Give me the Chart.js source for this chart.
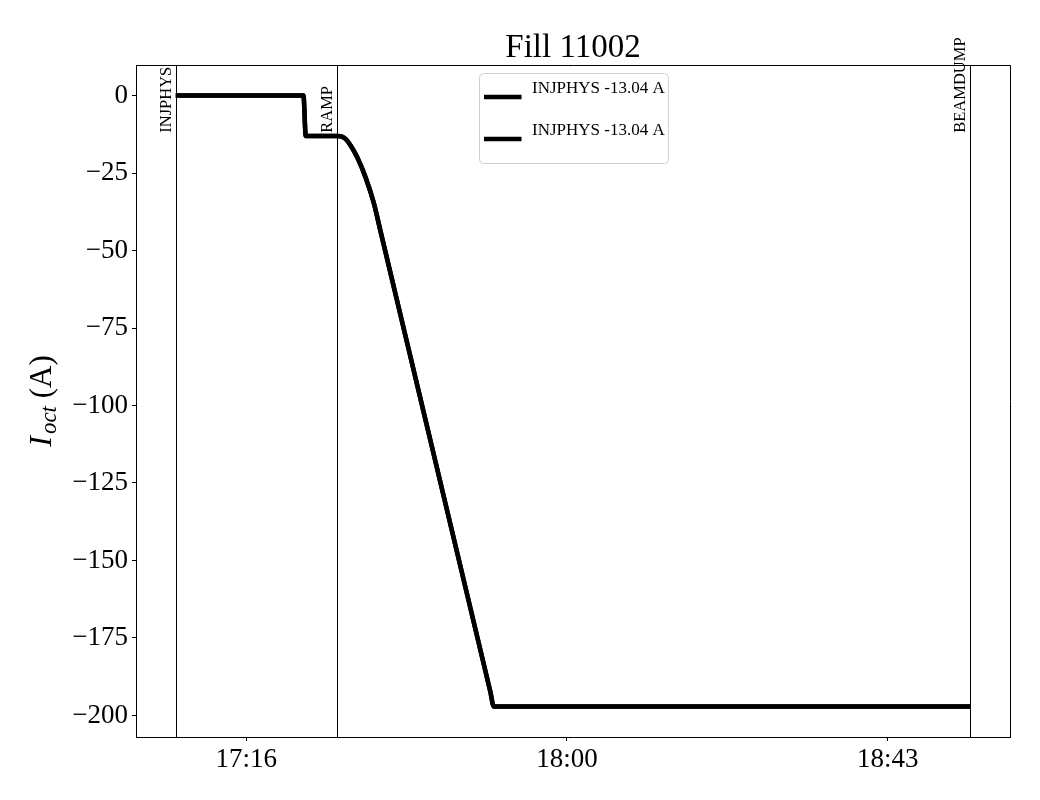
<!DOCTYPE html>
<html>
<head>
<meta charset="utf-8">
<script src="https://cdn.jsdelivr.net/npm/chart.js@4/dist/chart.umd.min.js"></script>
<style>
  html, body { margin: 0; padding: 0; background: #fff; }
  canvas { display: block; }
</style>
</head>
<body>
<canvas id="mychart" width="1040" height="800"></canvas>
<script>
// time in minutes after midnight, current in A
const timeMin = [1026.95, 1030, 1035, 1040, 1044.27, 1044.58, 1046.5, 1048.76, 1049.31, 1049.98,
  1050.66, 1051.56, 1052.69, 1053.82, 1054.73, 1060, 1069.6, 1070.08, 1085, 1100, 1115, 1134.68];
const current = [0, 0, 0, 0, 0, -13.04, -13.04, -13.04, -13.1, -14.0,
  -16.1, -19.9, -26.4, -34.8, -43.9, -96.5, -192.3, -197.1, -197.1, -197.1, -197.1, -197.1];
const seriesLabels = ["INJPHYS -13.04 A", "INJPHYS -13.04 A"];

const eventNames = ["INJPHYS", "RAMP", "BEAMDUMP"];
const eventTimes = [1026.95, 1048.76, 1134.68];

const xTickValues = [1036.5, 1080, 1123.5];
const xTickLabels = ["17:16", "18:00", "18:43"];
const yTickValues = [0, -25, -50, -75, -100, -125, -150, -175, -200];

const serif = "'Liberation Serif', 'Times New Roman', serif";
Chart.defaults.font.family = serif;
Chart.defaults.color = "#000";

// matplotlib-like 5% margins
const xr = timeMin[timeMin.length - 1] - timeMin[0];
const yr = Math.max(...current) - Math.min(...current);

const extras = {
  id: "extras",
  beforeDatasetsDraw(chart) {
    const ctx = chart.ctx, a = chart.chartArea;
    const xs = chart.scales.x, ys = chart.scales.y;
    ctx.save();
    ctx.strokeStyle = "#000";
    ctx.lineWidth = 1;
    eventTimes.forEach((t, i) => {
      const px = Math.round(xs.getPixelForValue(t)) + 0.5;
      ctx.beginPath();
      ctx.moveTo(px, a.top);
      ctx.lineTo(px, a.bottom);
      ctx.stroke();
      ctx.save();
      ctx.translate(px - 2, ys.getPixelForValue(-12));
      ctx.rotate(-Math.PI / 2);
      ctx.font = "16.5px " + serif;
      ctx.fillStyle = "#000";
      ctx.textAlign = "left";
      ctx.textBaseline = "bottom";
      ctx.fillText(eventNames[i], 0, 0);
      ctx.restore();
    });
    ctx.restore();
  },
  afterDraw(chart) {
    const ctx = chart.ctx, a = chart.chartArea;
    ctx.save();
    // top and right spines
    ctx.strokeStyle = "#000";
    ctx.lineWidth = 1;
    ctx.beginPath();
    ctx.moveTo(Math.round(a.left) + 0.5, Math.round(a.top) + 0.5);
    ctx.lineTo(Math.round(a.right) + 0.5, Math.round(a.top) + 0.5);
    ctx.lineTo(Math.round(a.right) + 0.5, Math.round(a.bottom) + 0.5);
    ctx.stroke();

    // y axis label: I_oct (A)
    ctx.save();
    ctx.translate(51, (a.top + a.bottom) / 2);
    ctx.rotate(-Math.PI / 2);
    ctx.fillStyle = "#000";
    ctx.textBaseline = "alphabetic";
    const fMain = "italic 32px " + serif, fSub = "italic 23px " + serif, fNorm = "31px " + serif;
    ctx.font = fMain; const w1 = ctx.measureText("I").width + 2;
    ctx.font = fSub; const w2 = ctx.measureText("oct").width;
    ctx.font = fNorm; const w3 = ctx.measureText(" (A)").width;
    let u = -(w1 + w2 + w3) / 2;
    ctx.font = fMain; ctx.fillText("I", u, 0); u += w1;
    ctx.font = fSub; ctx.fillText("oct", u, 5); u += w2;
    ctx.font = fNorm; ctx.fillText(" (A)", u, 0);
    ctx.restore();

    // legend, upper centre
    const bw = 189, bh = 90;
    const bx = Math.round((a.left + a.right) / 2 - bw / 2) + 0.5;
    const by = Math.round(a.top) + 8.5;
    ctx.beginPath();
    ctx.roundRect(bx, by, bw, bh, 4);
    ctx.fillStyle = "rgba(255,255,255,0.8)";
    ctx.fill();
    ctx.strokeStyle = "#d0d0d0";
    ctx.stroke();
    chart.data.datasets.forEach((ds, i) => {
      const ly = by + 23.5 + i * 42;
      ctx.beginPath();
      ctx.moveTo(bx + 4.5, ly);
      ctx.lineTo(bx + 42, ly);
      ctx.strokeStyle = ds.borderColor;
      ctx.lineWidth = ds.borderWidth;
      ctx.stroke();
      ctx.font = "17px " + serif;
      ctx.fillStyle = "#000";
      ctx.textAlign = "left";
      ctx.textBaseline = "alphabetic";
      ctx.fillText(ds.label, bx + 52.5, ly - 4.5);
    });
    ctx.restore();
  }
};

new Chart(document.getElementById("mychart"), {
  type: "line",
  data: {
    datasets: seriesLabels.map(lbl => ({
      label: lbl,
      data: timeMin.map((t, i) => ({ x: t, y: current[i] })),
      borderColor: "#000",
      borderWidth: 4.5,
      borderJoinStyle: "round",
      cubicInterpolationMode: "monotone",
      pointRadius: 0,
      fill: false
    }))
  },
  options: {
    responsive: false,
    devicePixelRatio: 1,
    animation: false,
    layout: { padding: { left: 0, right: 30, top: 0, bottom: 0 } },
    plugins: {
      legend: { display: false },
      tooltip: { enabled: false },
      title: {
        display: true,
        fullSize: false,
        text: "Fill 11002",
        color: "#000",
        font: { size: 33, weight: "normal", lineHeight: 1.0 },
        padding: { top: 32, bottom: 0 }
      }
    },
    scales: {
      x: {
        type: "linear",
        min: timeMin[0] - 0.05 * xr,
        max: timeMin[timeMin.length - 1] + 0.05 * xr,
        afterBuildTicks: s => { s.ticks = xTickValues.map(v => ({ value: v })); },
        afterFit: s => { s.height = 63; },
        ticks: {
          font: { size: 27 },
          padding: 3,
          maxRotation: 0,
          callback: (v, i) => xTickLabels[i]
        },
        grid: { drawOnChartArea: false, drawTicks: true, tickLength: 4, color: "#000" },
        border: { display: true, color: "#000", width: 1 }
      },
      y: {
        type: "linear",
        min: Math.min(...current) - 0.05 * yr,
        max: Math.max(...current) + 0.05 * yr,
        afterBuildTicks: s => { s.ticks = yTickValues.map(v => ({ value: v })); },
        afterFit: s => { s.width = 136; },
        ticks: {
          font: { size: 27 },
          padding: 4,
          callback: v => String(v).replace("-", "\u2212")
        },
        grid: { drawOnChartArea: false, drawTicks: true, tickLength: 4, color: "#000" },
        border: { display: true, color: "#000", width: 1 }
      }
    }
  },
  plugins: [extras]
});
</script>
</body>
</html>
